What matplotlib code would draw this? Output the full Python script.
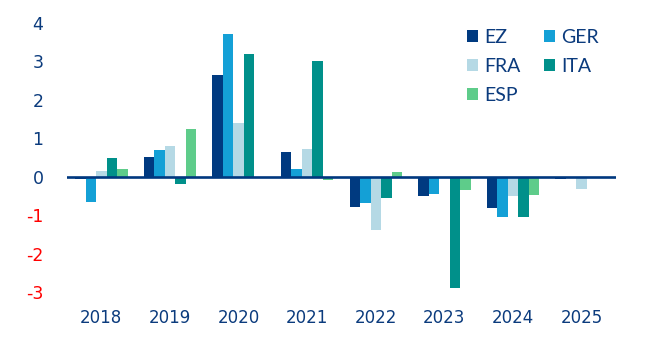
import matplotlib
matplotlib.use("Agg")
import matplotlib.pyplot as plt
from matplotlib.patches import Patch
import numpy as np

# Annual change by country, per year
years = ["2018", "2019", "2020", "2021", "2022", "2023", "2024", "2025"]
series_names = ["EZ", "GER", "FRA", "ITA", "ESP"]
ez = [-0.05, 0.51, 2.64, 0.64, -0.79, -0.50, -0.81, -0.06]
ger = [-0.65, 0.69, 3.71, 0.20, -0.68, -0.45, -1.05, 0.0]
fra = [0.15, 0.80, 1.39, 0.72, -1.39, 0.0, -0.50, -0.32]
ita = [0.48, -0.18, 3.19, 3.00, -0.55, -2.88, -1.05, 0.0]
esp = [0.20, 1.24, 0.0, -0.09, 0.12, -0.35, -0.48, 0.0]
yticks = [4, 3, 2, 1, 0, -1, -2, -3]

colors = ["#003a80", "#14a0d6", "#b5d9e5", "#00908a", "#5ecc8a"]
navy = "#0b3b7d"

W, H = 646, 337
fig = plt.figure(figsize=(W / 100, H / 100), dpi=100)
# axes placed in pixel terms
left_px, right_px = 67, 616
ymin, ymax = -3.3, 4.4
zero_px, unit_px = 176.7, 38.5
top_px = zero_px - ymax * unit_px
bot_px = zero_px - ymin * unit_px
ax = fig.add_axes([left_px / W, 1 - bot_px / H, (right_px - left_px) / W, (bot_px - top_px) / H])

x = np.arange(len(years))
bw = 0.153
all_series = [ez, ger, fra, ita, esp]
for i, (name, vals, c) in enumerate(zip(series_names, all_series, colors)):
    ax.bar(x + (i - 2) * bw, vals, width=bw, color=c, linewidth=0, zorder=2)

ax.axhline(0, color="#00387f", lw=1.9, zorder=3)
ax.set_xlim(-0.5, 7.5)
ax.set_ylim(ymin, ymax)

for s in ax.spines.values():
    s.set_visible(False)

ax.set_xticks(x)
ax.set_xticklabels(years, fontsize=12, color=navy, fontfamily="DejaVu Sans")
ax.set_yticks(yticks)
ax.set_yticklabels([str(v) for v in yticks], fontsize=12.5, fontfamily="DejaVu Sans")
for lbl, v in zip(ax.get_yticklabels(), yticks):
    lbl.set_color("#ff0000" if v < 0 else navy)
ax.tick_params(axis="both", length=0)
ax.tick_params(axis="y", pad=17)
ax.tick_params(axis="x", pad=3.5)

handles = [Patch(facecolor=c, edgecolor="none") for c in colors]
order = [0, 2, 4, 1, 3]
leg = ax.legend([handles[i] for i in order], [series_names[i] for i in order],
                ncol=2, loc="upper left", bbox_to_anchor=(467 / W, 1 - 29 / H),
                bbox_transform=fig.transFigure, frameon=False,
                prop={"family": "Lato", "size": 14},
                handlelength=0.58, handleheight=0.58, handletextpad=0.3,
                columnspacing=1.2, labelspacing=0.61, borderpad=0, borderaxespad=0)
for t in leg.get_texts():
    t.set_color(navy)

fig.savefig("out.png", dpi=100)
